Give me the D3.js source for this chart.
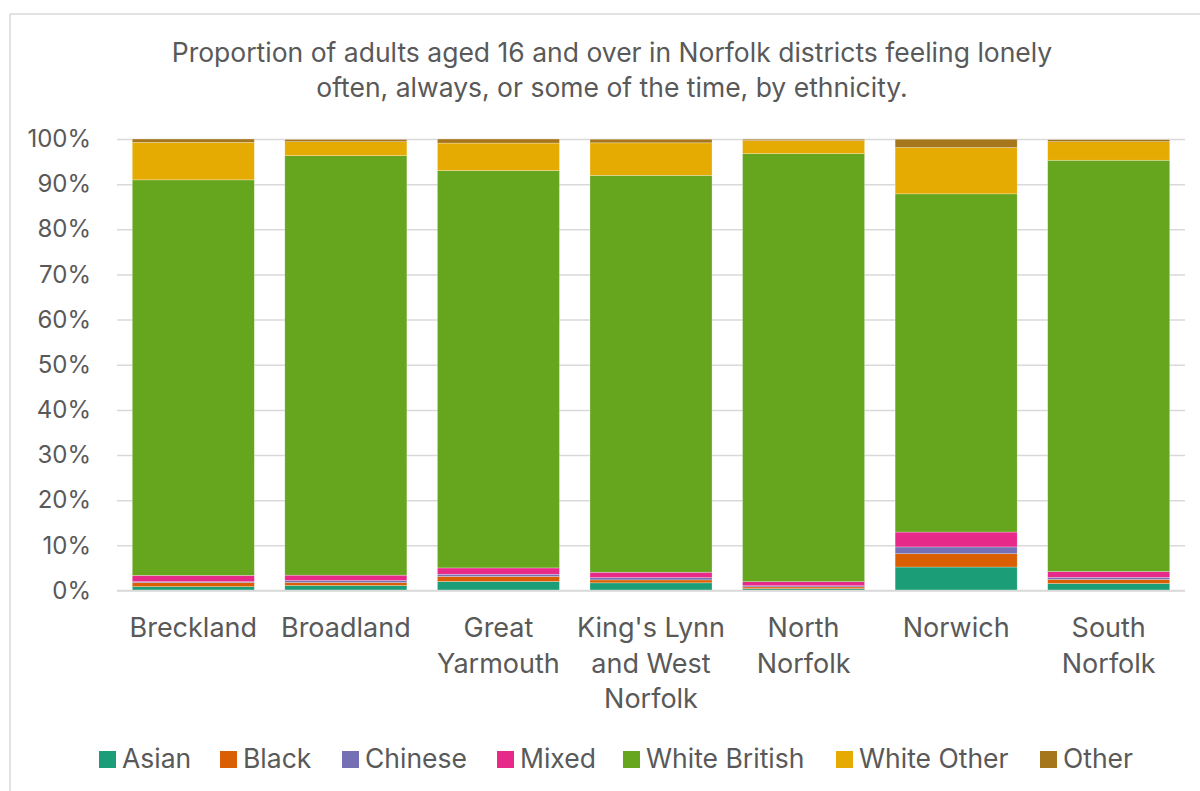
<!DOCTYPE html>
<html>
<head>
<meta charset="utf-8">
<script src="https://cdn.jsdelivr.net/npm/d3@7"></script>
<style>
  html, body { margin: 0; padding: 0; background: #fff; }
  svg { display: block; font-family: "Inter", "Open Sans", sans-serif; }
</style>
</head>
<body>
<svg id="chart" width="1200" height="791"></svg>
<script>
// Districts along the x axis
const districts = [
  ["Breckland"],
  ["Broadland"],
  ["Great", "Yarmouth"],
  ["King's Lynn", "and West", "Norfolk"],
  ["North", "Norfolk"],
  ["Norwich"],
  ["South", "Norfolk"]
];
const districtKeys = districts.map(d => d.join(" "));

// Ethnic groups, stacked bottom to top
const groups = ["Asian", "Black", "Chinese", "Mixed", "White British", "White Other", "Other"];
const groupColors = ["#1b9e77", "#d95f02", "#7570b3", "#e7298a", "#66a61e", "#e6ab02", "#a6761d"];

// Share (%) of each district's lonely adults, per group
const asian        = [0.85, 1.1, 2.0, 1.7, 0.4, 5.2, 1.55];
const black        = [0.9, 0.65, 1.1, 0.65, 0.4, 2.95, 0.9];
const chinese      = [0.2, 0.45, 0.5, 0.5, 0.25, 1.5, 0.45];
const mixed        = [1.4, 1.2, 1.4, 1.2, 0.9, 3.3, 1.3];
const whiteBritish = [87.6, 92.9, 88.0, 87.9, 94.8, 74.9, 91.1];
const whiteOther   = [8.3, 3.1, 6.1, 7.2, 2.9, 10.25, 4.1];
const other        = [0.75, 0.5, 0.9, 0.8, 0.3, 1.85, 0.45];

const yTicks = [0, 10, 20, 30, 40, 50, 60, 70, 80, 90, 100];

const seriesValues = [asian, black, chinese, mixed, whiteBritish, whiteOther, other];
const rows = districtKeys.map((k, i) => {
  const r = { district: k };
  groups.forEach((g, j) => { r[g] = seriesValues[j][i]; });
  return r;
});

const svg = d3.select("#chart");
const textColor = "#595959";

// Outer chart frame
svg.append("rect")
  .attr("x", 10).attr("y", 14)
  .attr("width", 1200).attr("height", 800)
  .attr("fill", "none").attr("stroke", "#d9d9d9").attr("stroke-width", 1.5);

// Title
const title = svg.append("text")
  .attr("text-anchor", "middle")
  .attr("fill", textColor)
  .attr("font-size", 26.5);
title.append("tspan").attr("x", 612).attr("y", 62)
  .text("Proportion of adults aged 16 and over in Norfolk districts feeling lonely");
title.append("tspan").attr("x", 612).attr("y", 97)
  .text("often, always, or some of the time, by ethnicity.");

const plot = { left: 117, right: 1185, top: 139, bottom: 590.5 };

const x = d3.scaleBand()
  .domain(districtKeys)
  .range([plot.left, plot.right])
  .paddingInner(0.2)
  .paddingOuter(0.1);

const y = d3.scaleLinear()
  .domain([0, 100])
  .range([plot.bottom, plot.top]);

// Gridlines and y axis labels
const yAxis = svg.append("g")
  .attr("transform", `translate(${plot.left},0)`)
  .call(d3.axisLeft(y).tickValues(yTicks)
    .tickFormat(d => d + "%")
    .tickSize(-(plot.right - plot.left))
    .tickPadding(26));
yAxis.select(".domain").remove();
yAxis.selectAll(".tick line").attr("stroke", "#d9d9d9").attr("stroke-width", 1.5);
yAxis.selectAll(".tick text")
  .attr("fill", textColor)
  .attr("font-size", 24)
  .attr("font-family", "Inter, 'Open Sans', sans-serif");

// Stacked bars
const stacked = d3.stack().keys(groups)(rows);
svg.append("g")
  .selectAll("g")
  .data(stacked)
  .join("g")
  .attr("fill", (d, i) => groupColors[i])
  .selectAll("rect")
  .data(d => d)
  .join("rect")
  .attr("x", d => x(d.data.district))
  .attr("width", x.bandwidth())
  .attr("y", d => y(d[1]))
  .attr("height", d => y(d[0]) - y(d[1]))
  .attr("stroke", "rgba(255,255,255,0.45)")
  .attr("stroke-width", 0.6);

// Baseline
svg.append("line")
  .attr("x1", plot.left).attr("x2", plot.right)
  .attr("y1", y(0)).attr("y2", y(0))
  .attr("stroke", "#d9d9d9").attr("stroke-width", 1.5);

// Category labels (multi-line)
const xLabels = svg.append("g");
districts.forEach((lines, i) => {
  const t = xLabels.append("text")
    .attr("text-anchor", "middle")
    .attr("fill", textColor)
    .attr("font-size", 27);
  lines.forEach((ln, j) => {
    t.append("tspan")
      .attr("x", x(districtKeys[i]) + x.bandwidth() / 2)
      .attr("y", 637 + j * 35.5)
      .text(ln);
  });
});

// Legend
const legendX = [99, 220, 342, 497, 623, 836, 1040];
const legend = svg.append("g");
groups.forEach((g, i) => {
  legend.append("rect")
    .attr("x", legendX[i]).attr("y", 751)
    .attr("width", 17).attr("height", 17)
    .attr("fill", groupColors[i]);
  legend.append("text")
    .attr("x", legendX[i] + 23).attr("y", 768)
    .attr("fill", textColor)
    .attr("font-size", 26.5)
    .text(g);
});
</script>
</body>
</html>
